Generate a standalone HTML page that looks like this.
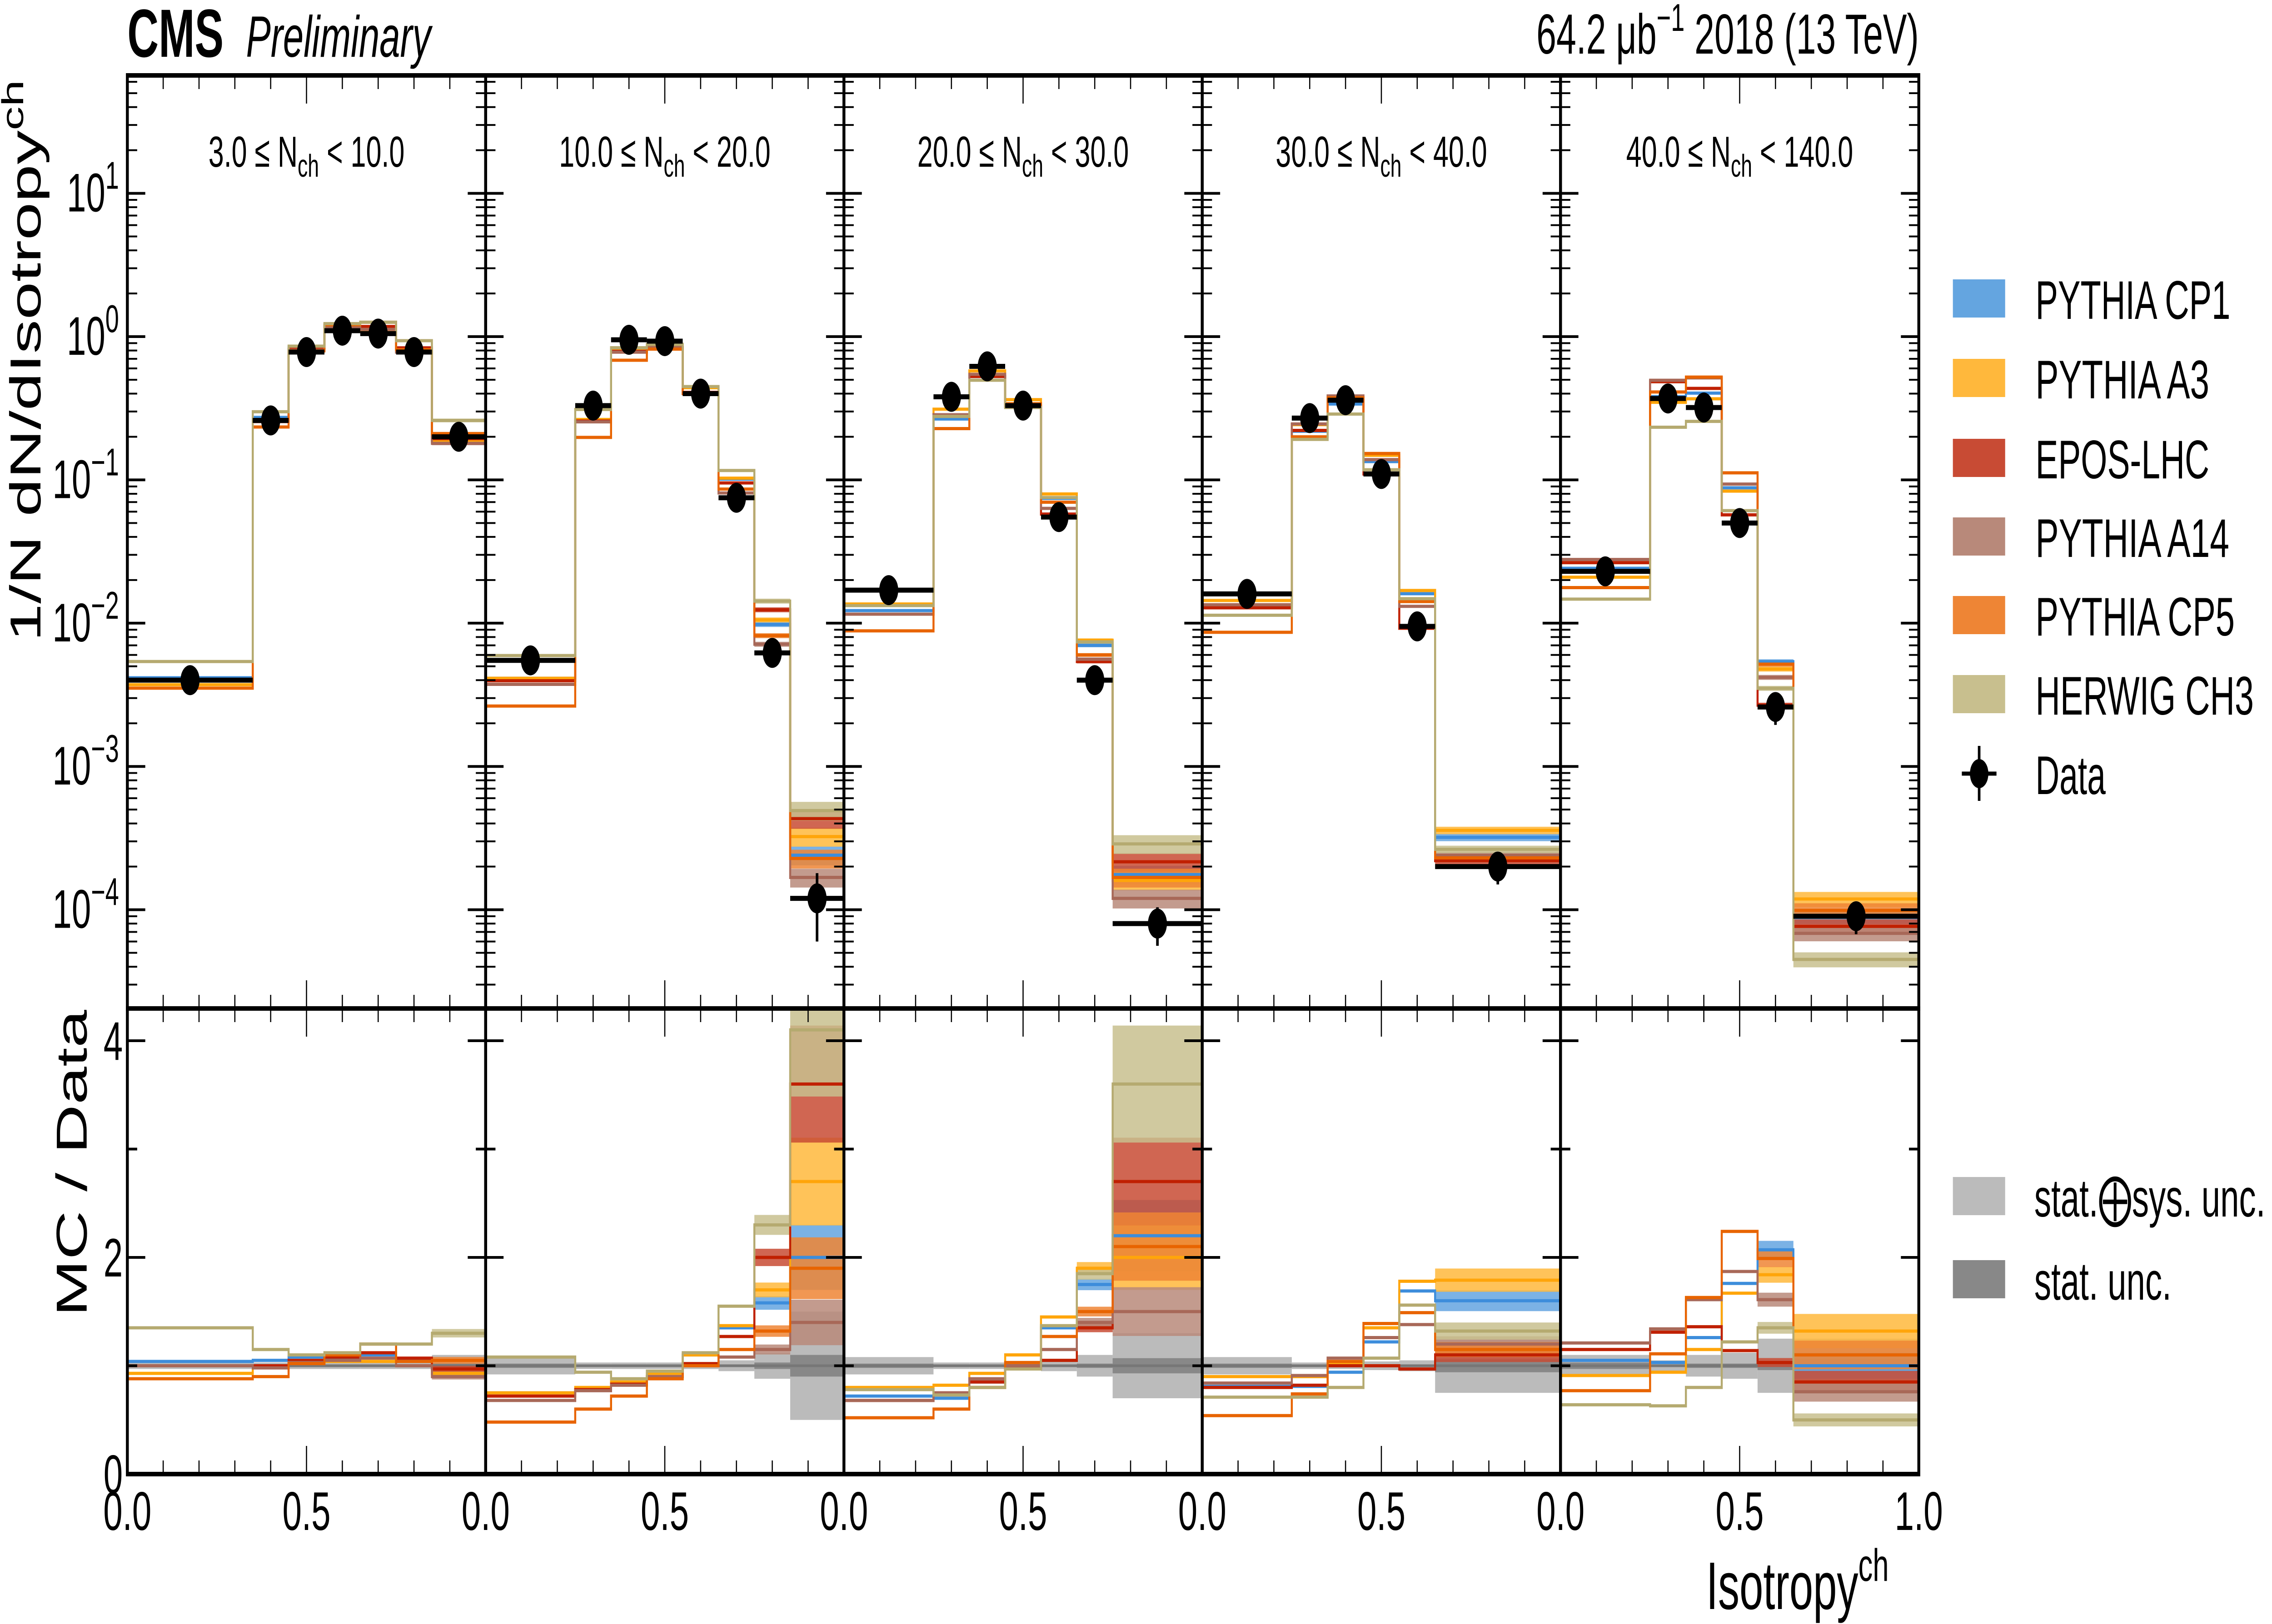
<!DOCTYPE html>
<html><head><meta charset="utf-8">
<style>
html,body{margin:0;padding:0;background:#fff;overflow:hidden;width:100%;height:100%;}
svg{display:block;position:absolute;left:0;top:0;width:100vw;height:100vh;}
text{font-family:"Liberation Sans Narrow","Liberation Sans",sans-serif;}
</style></head>
<body>
<svg id="chart" viewBox="0 0 7867 3575" preserveAspectRatio="none" xmlns="http://www.w3.org/2000/svg">
<g id="layer-bands"></g>
<g id="layer-lines"></g>
<g id="layer-data"></g>
<g id="layer-axes"></g>
<g id="layer-text">
 <text x="441" y="125" font-size="150" font-weight="bold" font-family="Liberation Sans, sans-serif">CMS</text>
 <text x="852" y="125" font-size="128" font-style="italic">Preliminary</text>
 <text x="6644" y="118" font-size="124" text-anchor="end">64.2 μb<tspan dy="-50" font-size="85">−1</tspan><tspan dy="50"> 2018 (13 TeV)</tspan></text>
 <text transform="translate(140,176) rotate(-90)" font-size="150" text-anchor="end" font-family="Liberation Sans, sans-serif">1/N dN/dIsotropy<tspan dy="-60" font-size="105">ch</tspan></text>
 <text transform="translate(300,2223) rotate(-90)" font-size="150" text-anchor="end" font-family="Liberation Sans, sans-serif">MC / Data</text>
 <text x="6540" y="3542" font-size="148" text-anchor="end">Isotropy<tspan dy="-62" font-size="100">ch</tspan></text>
</g>
<g id="layer-legend"></g>
</svg>
<script>
// ---- data ----
const generators = ["PYTHIA CP1","PYTHIA A3","EPOS-LHC","PYTHIA A14","PYTHIA CP5","HERWIG CH3"];
const panelLabels = [["3.0","10.0"],["10.0","20.0"],["20.0","30.0"],["30.0","40.0"],["40.0","140.0"]];
const binEdges = [
 [0,0.35,0.45,0.55,0.65,0.75,0.85,1.0],
 [0,0.25,0.35,0.45,0.55,0.65,0.75,0.85,1.0],
 [0,0.25,0.35,0.45,0.55,0.65,0.75,1.0],
 [0,0.25,0.35,0.45,0.55,0.65,1.0],
 [0,0.25,0.35,0.45,0.55,0.65,1.0]
];
const dataVals = [
 [0.004,0.26,0.78,1.1,1.05,0.78,0.2],
 [0.0055,0.33,0.95,0.93,0.40,0.075,0.0062,0.00012],
 [0.017,0.38,0.62,0.33,0.055,0.004,0.00008],
 [0.016,0.27,0.36,0.11,0.0095,0.0002],
 [0.023,0.37,0.32,0.05,0.0026,0.00009]
];
const dataTotUnc = [
 [0.03,0.03,0.03,0.03,0.03,0.03,0.1],
 [0.08,0.03,0.03,0.03,0.03,0.05,0.12,0.5],
 [0.08,0.03,0.03,0.03,0.05,0.1,0.3],
 [0.08,0.03,0.03,0.04,0.05,0.25],
 [0.1,0.05,0.1,0.12,0.25,0.25]
];
const dataStatUnc = [
 [0.01,0.01,0.01,0.01,0.01,0.01,0.02],
 [0.02,0.01,0.01,0.01,0.01,0.01,0.03,0.1],
 [0.02,0.01,0.01,0.01,0.01,0.02,0.07],
 [0.02,0.01,0.01,0.01,0.01,0.06],
 [0.03,0.01,0.02,0.02,0.04,0.06]
];
const mcRelUnc = [
 [0.01,0.01,0.01,0.01,0.01,0.01,0.03],
 [0.01,0.01,0.01,0.01,0.01,0.02,0.04,0.15],
 [0.01,0.01,0.01,0.01,0.02,0.03,0.15],
 [0.01,0.01,0.01,0.01,0.02,0.06],
 [0.01,0.01,0.01,0.02,0.04,0.12]
];
const ratioCP1 = [
 [1.04,1.05,1.08,1.06,1.10,1.05,0.93],
 [0.75,0.78,0.83,0.90,1.10,1.35,1.58,2.0],
 [0.72,0.70,0.85,0.98,1.35,1.75,2.2],
 [0.81,0.81,0.94,1.22,1.69,1.60],
 [1.05,1.03,1.26,1.76,2.07,1.0]
];
const ratioA3 = [
 [0.93,1.00,1.03,1.04,1.04,1.00,0.93],
 [0.75,0.80,0.85,0.93,1.10,1.37,1.70,2.7],
 [0.80,0.82,0.93,1.10,1.45,1.90,2.0],
 [0.90,0.90,1.03,1.35,1.78,1.79],
 [0.91,0.94,1.15,1.67,1.84,1.32]
];
const ratioEPOS = [
 [1.00,1.00,1.05,1.08,1.12,1.07,0.97],
 [0.72,0.78,0.83,0.90,1.02,1.27,2.0,3.6],
 [0.68,0.75,0.85,0.98,1.05,1.35,2.7],
 [0.80,0.82,1.00,1.00,0.97,1.10],
 [1.15,1.31,1.36,1.14,1.03,0.85]
];
const ratioA14 = [
 [1.00,0.98,1.03,1.05,1.07,1.00,0.90],
 [0.68,0.77,0.82,0.90,1.00,1.08,1.15,1.4],
 [0.68,0.75,0.88,1.00,1.15,1.40,1.5],
 [0.84,0.91,1.07,1.26,1.38,1.20],
 [1.21,1.34,1.61,1.87,1.61,0.76]
];
const ratioCP5 = [
 [0.88,0.90,1.02,1.10,1.20,1.04,1.05],
 [0.48,0.60,0.72,0.88,1.00,1.15,1.32,1.9],
 [0.52,0.60,0.80,1.03,1.27,1.50,2.1],
 [0.54,0.74,1.04,1.39,1.49,1.15],
 [0.77,1.11,1.63,2.24,1.99,1.10]
];
const ratioCH3 = [
 [1.35,1.15,1.10,1.12,1.20,1.20,1.30],
 [1.08,0.94,0.88,0.95,1.12,1.55,2.30,4.1],
 [0.78,0.73,0.80,0.97,1.37,1.85,3.6],
 [0.71,0.71,0.80,1.07,1.56,1.32],
 [0.64,0.63,0.80,1.22,1.35,0.50]
];
const yTickExps = [1,0,-1,-2,-3,-4];
const ratioTicks = [0,2,4];
const xTickLabels = ["0.0","0.5"];

// ---- style / geometry ----
const ratios = [ratioCP1,ratioA3,ratioEPOS,ratioA14,ratioCP5,ratioCH3];
const bandCol = ["#64a5e0","#ffb83c","#c84b34","#b8897a","#ee8535","#c8bf8e"];
const lineCol = ["#3d8ddb","#ffa50a","#c02000","#a86858","#e86400","#b5aa70"];
const legLen = [675,602,602,671,690,756];
const NS = "http://www.w3.org/2000/svg";
const PX0 = 441, PX1 = 6644, PW = (PX1 - PX0) / 5;
const TOP0 = 166, MID = 2220, BOT = 3245;
function xs(p, v){ return PX0 + p*PW + v*PW; }
function yTop(v){ const y = 741 - Math.log10(v)*315.4; return Math.max(TOP0, Math.min(MID, y)); }
function yRat(v){ const y = BOT - v*238.5; return Math.max(MID, Math.min(BOT, y)); }
function mk(tag, attrs, parent){
  const e = document.createElementNS(NS, tag);
  for (const k in attrs) e.setAttribute(k, attrs[k]);
  parent.appendChild(e); return e;
}
const bands = document.getElementById('layer-bands');
const lines = document.getElementById('layer-lines');
const dataL = document.getElementById('layer-data');
const axes = document.getElementById('layer-axes');
const textL = document.getElementById('layer-text');

for (let p = 0; p < 5; p++) {
  const edges = binEdges[p], dv = dataVals[p];
  const nb = dv.length;
  for (let b = 0; b < nb; b++) {
    const x0 = xs(p, edges[b]), x1 = xs(p, edges[b+1]);
    const t = dataTotUnc[p][b], s = dataStatUnc[p][b];
    const r1 = mk('rect', {x:x0, y:yRat(1+t), width:x1-x0, height:yRat(1-t)-yRat(1+t), fill:'#bbbbbb'}, bands);
    
    
    const r2 = mk('rect', {x:x0, y:yRat(1+s), width:x1-x0, height:yRat(1-s)-yRat(1+s), fill:'#888888'}, bands);
    
    
  }
  const ln = mk('line', {x1:xs(p,0), x2:xs(p,1), y1:yRat(1), y2:yRat(1), stroke:'#777', 'stroke-width':6}, bands);
  
  

  for (let g = 0; g < 6; g++) {
    const rv = ratios[g][p];
    let dTop = '', dRat = '';
    for (let b = 0; b < nb; b++) {
      const x0 = xs(p, edges[b]), x1 = xs(p, edges[b+1]);
      const u = mcRelUnc[p][b];
      const mv = dv[b]*rv[b];
      if (u > 0.02) {
        const bt = mk('rect', {x:x0, y:yTop(mv*(1+u)), width:x1-x0, height:yTop(mv*(1-u))-yTop(mv*(1+u)), fill:bandCol[g], opacity:0.85}, bands);
        
        
        const br = mk('rect', {x:x0, y:yRat(rv[b]*(1+u)), width:x1-x0, height:yRat(rv[b]*(1-u))-yRat(rv[b]*(1+u)), fill:bandCol[g], opacity:0.85}, bands);
        
        
      }
      dTop += (b === 0 ? 'M' : 'L') + x0 + ',' + yTop(mv) + 'L' + x1 + ',' + yTop(mv);
      dRat += (b === 0 ? 'M' : 'L') + x0 + ',' + yRat(rv[b]) + 'L' + x1 + ',' + yRat(rv[b]);
    }
    const pt = mk('path', {d:dTop, fill:'none', stroke:lineCol[g], 'stroke-width':7}, lines);
    
    
    const pr = mk('path', {d:dRat, fill:'none', stroke:lineCol[g], 'stroke-width':7}, lines);
    
    
  }

  for (let b = 0; b < nb; b++) {
    const x0 = xs(p, edges[b]), x1 = xs(p, edges[b+1]);
    const cx = (x0 + x1)/2, y = yTop(dv[b]);
    const h = mk('line', {x1:x0, x2:x1, y1:y, y2:y, stroke:'#000', 'stroke-width':11}, dataL);
    
    
    const t = dataTotUnc[p][b];
    const v = mk('line', {x1:cx, x2:cx, y1:yTop(dv[b]*(1+t)), y2:yTop(dv[b]*(1-t)), stroke:'#000', 'stroke-width':9}, dataL);
    
    
    const c = mk('circle', {cx:cx, cy:y, r:33, fill:'#000'}, dataL);
    
    
  }

  const lb = mk('text', {x:xs(p,0.5), y:367, 'font-size':96, 'text-anchor':'middle'}, textL);
  
  
  lb.innerHTML = panelLabels[p][0] + ' ≤ N<tspan dy="22" font-size="70">ch</tspan><tspan dy="-22"> &lt; ' + panelLabels[p][1] + '</tspan>';

  const f1 = mk('rect', {x:xs(p,0), y:TOP0, width:PW, height:MID-TOP0, fill:'none', stroke:'#000', 'stroke-width':10}, axes);
  
  
  const f2 = mk('rect', {x:xs(p,0), y:MID, width:PW, height:BOT-MID, fill:'none', stroke:'#000', 'stroke-width':10}, axes);
  
  

  for (let k = 1; k < 10; k++) {
    const x = xs(p, k/10), L = (k === 5) ? 62 : 30;
    for (const [ya, dir] of [[TOP0,1],[MID,-1],[MID,1],[BOT,-1]]) {
      const tk = mk('line', {x1:x, x2:x, y1:ya, y2:ya+dir*L, stroke:'#000', 'stroke-width':4}, axes);
      
      
    }
  }
  for (let e = -5; e <= 1; e++) {
    for (let m = 1; m <= 9; m++) {
      const val = m*Math.pow(10, e);
      const yy = 741 - Math.log10(val)*315.4;
      if (yy < TOP0+5 || yy > MID-5) continue;
      const L = (m === 1) ? 62 : 34;
      for (const [xa, dir] of [[xs(p,0),1],[xs(p,1),-1]]) {
        const tk = mk('line', {x1:xa, x2:xa+dir*L, y1:yy, y2:yy, stroke:'#000', 'stroke-width':(m===1?6:4)}, axes);
        
        
      }
    }
  }
  for (let r = 1; r <= 4; r++) {
    const yy = BOT - r*238.5, L = (r % 2 === 0) ? 62 : 34;
    for (const [xa, dir] of [[xs(p,0),1],[xs(p,1),-1]]) {
      const tk = mk('line', {x1:xa, x2:xa+dir*L, y1:yy, y2:yy, stroke:'#000', 'stroke-width':6}, axes);
      
      
    }
  }
  for (let i = 0; i < xTickLabels.length; i++) {
    const tl = mk('text', {x:xs(p, i*0.5), y:3368, 'font-size':120, 'text-anchor':'middle'}, textL);
    
    
    tl.textContent = xTickLabels[i];
  }
}
const tlEnd = mk('text', {x:xs(4,1), y:3368, 'font-size':120, 'text-anchor':'middle'}, textL);


tlEnd.textContent = "1.0";

for (const e of yTickExps) {
  const yy = 741 - e*315.4;
  const t = mk('text', {x:412, y:yy+40, 'font-size':120, 'text-anchor':'end'}, textL);
  
  
  t.innerHTML = '10<tspan dy="-50" font-size="85">' + (e < 0 ? '−' + (-e) : e) + '</tspan>';
}
for (const r of ratioTicks) {
  const t = mk('text', {x:425, y:BOT - r*238.5 + 42, 'font-size':120, 'text-anchor':'end'}, textL);
  
  
  t.textContent = String(r);
}

// legend
const leg = document.getElementById('layer-legend');
const legY = [657,832,1008,1181,1354,1528];
for (let g = 0; g < 6; g++) {
  const sw = mk('rect', {x:6762, y:legY[g]-42, width:181, height:84, fill:bandCol[g]}, leg);
  
  
  const tx = mk('text', {x:7048, y:legY[g]+45, 'font-size':120, 'font-family':'Liberation Sans, sans-serif', textLength:legLen[g], lengthAdjust:'spacingAndGlyphs'}, leg);
  
  
  tx.textContent = generators[g];
}
{
  const l1 = mk('line', {x1:6793, x2:6913, y1:1703, y2:1703, stroke:'#000', 'stroke-width':9}, leg);
  
  
  const l2 = mk('line', {x1:6853, x2:6853, y1:1642, y2:1763, stroke:'#000', 'stroke-width':9}, leg);
  
  
  const c = mk('circle', {cx:6853, cy:1703, r:32, fill:'#000'}, leg);
  
  
  const tx = mk('text', {x:7048, y:1748, 'font-size':120, 'font-family':'Liberation Sans, sans-serif', textLength:243, lengthAdjust:'spacingAndGlyphs'}, leg);
  
  
  tx.textContent = 'Data';
  const s1 = mk('rect', {x:6762, y:2591, width:181, height:84, fill:'#bbbbbb'}, leg);
  
  
  const t1 = mk('text', {x:7044, y:2678, 'font-size':118, 'font-family':'Liberation Sans, DejaVu Sans, sans-serif', textLength:800, lengthAdjust:'spacingAndGlyphs'}, leg);
  
  
  t1.textContent = 'stat.⨁sys. unc.';
  const s2 = mk('rect', {x:6762, y:2774, width:181, height:84, fill:'#888888'}, leg);
  
  
  const t2 = mk('text', {x:7044, y:2861, 'font-size':118, 'font-family':'Liberation Sans, sans-serif', textLength:475, lengthAdjust:'spacingAndGlyphs'}, leg);
  
  
  t2.textContent = 'stat. unc.';
}
</script>
</body></html>
